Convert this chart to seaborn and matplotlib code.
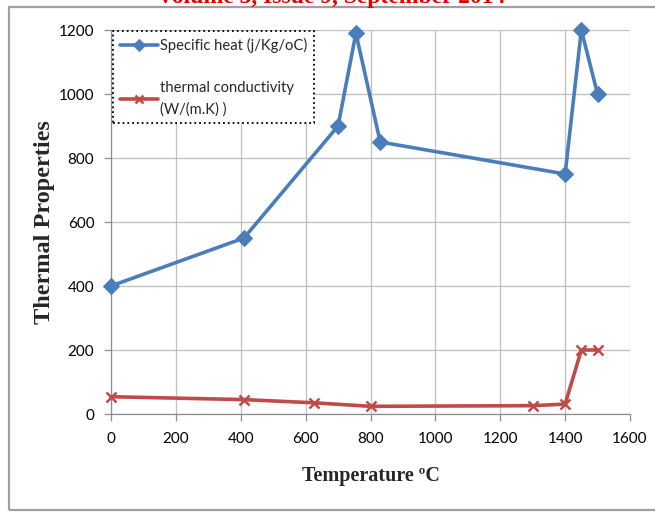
import matplotlib
matplotlib.use("Agg")
import matplotlib.pyplot as plt
import seaborn as sns
import pandas as pd
from matplotlib.patches import Rectangle

# Data
sh_temp = [0, 410, 700, 755, 830, 1400, 1450, 1500]
sh_vals = [400, 550, 900, 1190, 850, 750, 1200, 1000]
tc_temp = [0, 410, 625, 800, 1300, 1400, 1450, 1500]
tc_vals = [54, 45, 35, 24, 26, 31, 200, 200]
x_ticks = [0, 200, 400, 600, 800, 1000, 1200, 1400, 1600]
y_ticks = [0, 200, 400, 600, 800, 1000, 1200]
sh_label = "Specific heat (j/Kg/oC)"
tc_label = "thermal conductivity\n(W/(m.K) )"
x_label = "Temperature \u00baC"
y_label = "Thermal Properties"
title_text = "Volume 3, Issue 9, September 2014"

sns.set_theme(style="white")
plt.rcParams['font.family'] = ['Lato', 'DejaVu Sans']

W, H = 655, 512
fig = plt.figure(figsize=(W / 100, H / 100), dpi=100)
ax = fig.add_axes([111 / W, (H - 414) / H, (630 - 111) / W, (414 - 30) / H])

df_sh = pd.DataFrame({"t": sh_temp, "v": sh_vals})
df_tc = pd.DataFrame({"t": tc_temp, "v": tc_vals})

blue = "#4A7EBB"
red = "#BE4B48"
sns.lineplot(data=df_sh, x="t", y="v", ax=ax, color=blue, lw=2.6, marker="D",
             markersize=8, markeredgecolor=blue, label=sh_label, sort=False,
             clip_on=False, zorder=5)
sns.lineplot(data=df_tc, x="t", y="v", ax=ax, color=red, lw=2.6, marker="x",
             markersize=7, markeredgewidth=1.8, markeredgecolor=red, label=tc_label,
             sort=False, clip_on=False, zorder=5)

ax.set_xlim(0, 1600)
ax.set_ylim(0, 1200)
ax.set_xticks(x_ticks)
ax.set_yticks(y_ticks)
ax.set_xticklabels([str(v) for v in x_ticks], fontsize=11)
ax.set_yticklabels([str(v) for v in y_ticks], fontsize=11)
ax.grid(True, color="#BFBFBF", lw=0.9)
ax.set_axisbelow(True)
for s in ["top", "right"]:
    ax.spines[s].set_visible(False)
for s in ["left", "bottom"]:
    ax.spines[s].set_color("#8C8C8C")
    ax.spines[s].set_linewidth(0.9)
ax.tick_params(axis="both", direction="out", length=5, width=0.9, color="#8C8C8C",
               colors="black", bottom=True, left=True)
ax.tick_params(axis="x", pad=8)
ax.tick_params(axis="y", pad=7)

ax.set_xlabel(x_label, fontfamily="Liberation Serif", fontweight="bold", fontsize=14.5,
              labelpad=14)
ax.set_ylabel(y_label, fontfamily="Liberation Serif", fontweight="bold", fontsize=17.5,
              labelpad=3)

leg = ax.legend(loc="upper left", bbox_to_anchor=(113 / W, (H - 31) / H),
                bbox_transform=fig.transFigure, borderaxespad=0, fontsize=10.6,
                handlelength=2.6, handletextpad=0.15, labelspacing=1.95,
                fancybox=False, frameon=True, borderpad=0.45, markerscale=0.8)
for t in leg.get_texts():
    t.set_linespacing(1.6)
fr = leg.get_frame()
fr.set_edgecolor("black")
fr.set_linestyle(":")
fr.set_linewidth(1.3)
fr.set_alpha(1)

# outer border
fig.patches.append(Rectangle((9 / W, 2 / H), 700 / W, (510 - 6.5) / H,
                             transform=fig.transFigure, fill=False,
                             edgecolor="#A0A0A0", lw=1.6))
fig.text(0.505, 1 - 3 / H, title_text, ha="center", va="baseline", color="#E00000",
         fontfamily="Liberation Serif", fontweight="bold", fontsize=17)

fig.savefig("out.png", dpi=100)
